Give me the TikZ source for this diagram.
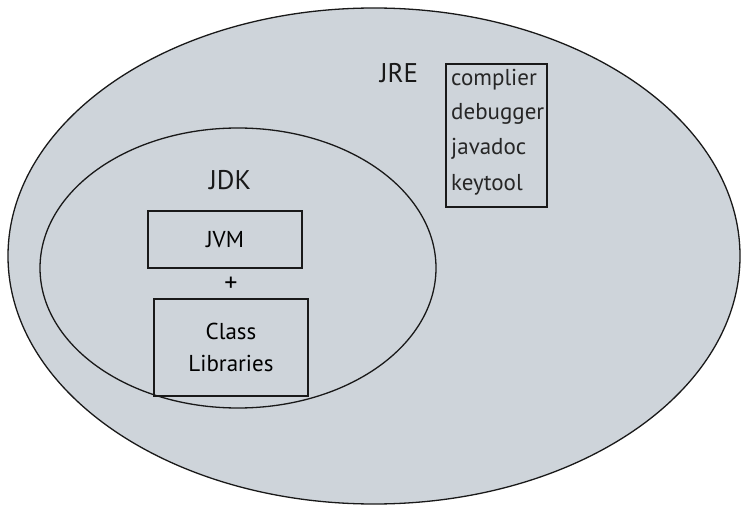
\documentclass[tikz,border=0pt]{standalone}
\usepackage{fontspec}
\setmainfont{PT Sans}
\begin{document}
\begin{tikzpicture}[x=1pt,y=-1pt,
  blob/.style={draw=black!90, line width=1.3pt, fill=fillgray},
  frame/.style={draw=black!90, line width=1.3pt},
  lbl/.style={font=\fontsize{27}{30}\selectfont, text=black!90},
  item/.style={font=\fontsize{23}{26}\selectfont, text=black!85, anchor=west, inner sep=0pt}]
\definecolor{fillgray}{HTML}{CED4DA}
\useasboundingbox (0,0) rectangle (747,513);
\path[blob] (374,256) ellipse [x radius=366, y radius=248];
\path[blob] (238,268) ellipse [x radius=198, y radius=140];
\node[lbl] (jre) at (399,73) {JRE};
\node[frame, minimum width=101pt, minimum height=143pt] (tools) at (496.5,135.5) {};
\node[item] (c1) at (451,80) {complier};
\node[item] (c2) at (451,114) {debugger};
\node[item] (c3) at (451,149) {javadoc};
\node[item] (c4) at (451,185) {keytool};
\node[lbl] (jdk) at (230,180) {JDK};
\node[frame, minimum width=154pt, minimum height=57pt, font=\fontsize{23}{26}\selectfont] (jvm) at (225,239.5) {JVM};
\node[font=\fontsize{26}{30}\selectfont] (plus) at (231,284) {+};
\node[frame, minimum width=154pt, minimum height=97pt, align=center, font=\fontsize{23}{32}\selectfont] (cls) at (231,347.5) {Class\\Libraries};
\end{tikzpicture}
\end{document}
